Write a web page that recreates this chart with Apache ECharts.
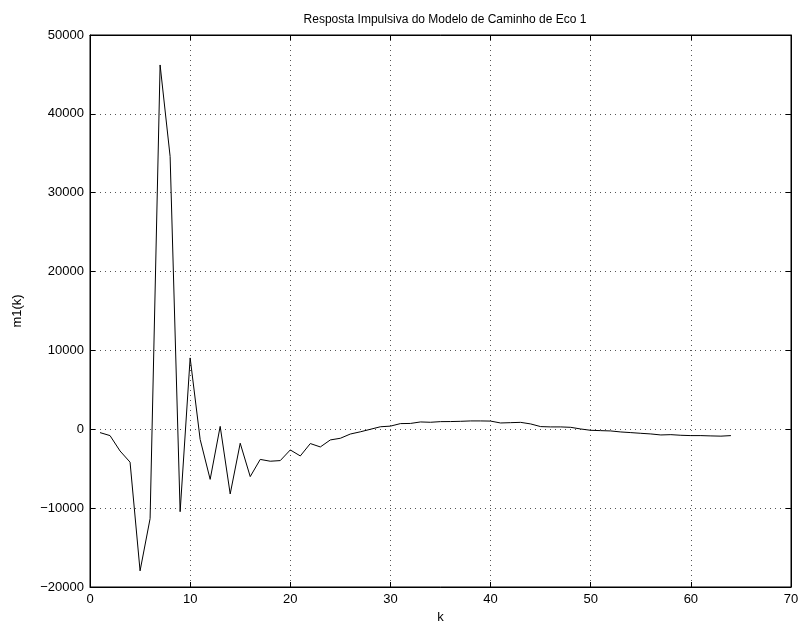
<!DOCTYPE html>
<html>
<head>
<meta charset="utf-8">
<script src="https://cdn.jsdelivr.net/npm/echarts@6/dist/echarts.min.js"></script>
<style>
  html, body { margin: 0; padding: 0; background: #fff; }
  #main { width: 802px; height: 631px; }
</style>
</head>
<body>
<div id="main"></div>
<script>
var myChart = echarts.init(document.getElementById('main'));

var k = [];
for (var i = 1; i <= 64; i++) k.push(i);
var m1 = [
    -420, -800, -2750, -4170, -17950, -11330, 46200, 34600, -10450, 9050,
    -1290, -6350, 370, -8200, -1770, -6000, -3820, -4050, -3970, -2620,
    -3380, -1810, -2240, -1350, -1140, -600, -320, 0, 320, 400,
    720, 740, 930, 890, 970, 980, 1010, 1060, 1060, 1040,
    800, 840, 880, 680, 340, 300, 300, 250, 40, -130,
    -170, -210, -340, -420, -510, -590, -720, -680, -760, -800,
    -800, -840, -870, -800
];

var fontFam = 'Liberation Sans, Arial, sans-serif';
var gridLine = { show: true, lineStyle: { color: '#555', type: [1, 4], width: 1 } };
var tick = { show: true, inside: true, length: 5, lineStyle: { color: '#000' } };

option = {
    backgroundColor: '#fff',
    animation: false,
    title: {
        text: 'Resposta Impulsiva do Modelo de Caminho de Eco 1',
        left: 440,
        textAlign: 'center',
        top: 9,
        textStyle: { fontSize: 12, fontWeight: 'normal', color: '#000', fontFamily: fontFam }
    },
    grid: {
        left: 90,
        right: 11,
        top: 35,
        bottom: 44,
        show: true,
        borderColor: '#000',
        borderWidth: 1
    },
    xAxis: [{
        type: 'value',
        min: 0,
        max: 70,
        interval: 10,
        name: 'k',
        nameLocation: 'middle',
        nameGap: 24,
        nameTextStyle: { fontSize: 13, color: '#000', fontFamily: fontFam },
        axisLine: { show: true, onZero: false, lineStyle: { color: '#000' } },
        axisTick: tick,
        axisLabel: { fontSize: 13, color: '#000', fontFamily: fontFam, margin: 6 },
        splitLine: gridLine
    }, {
        type: 'value',
        position: 'top',
        min: 0,
        max: 70,
        interval: 10,
        axisLine: { show: true, onZero: false, lineStyle: { color: '#000' } },
        axisTick: tick,
        axisLabel: { show: false },
        splitLine: { show: false }
    }],
    yAxis: [{
        type: 'value',
        min: -20000,
        max: 50000,
        interval: 10000,
        name: 'm1(k)',
        nameLocation: 'middle',
        nameGap: 66,
        nameTextStyle: { fontSize: 13, color: '#000', fontFamily: fontFam },
        axisLine: { show: true, onZero: false, lineStyle: { color: '#000' } },
        axisTick: tick,
        axisLabel: {
            fontSize: 13, color: '#000', fontFamily: fontFam, margin: 6,
            formatter: function (v) { return String(v).replace('-', '\u2212'); }
        },
        splitLine: gridLine
    }, {
        type: 'value',
        position: 'right',
        min: -20000,
        max: 50000,
        interval: 10000,
        axisLine: { show: true, onZero: false, lineStyle: { color: '#000' } },
        axisTick: tick,
        axisLabel: { show: false },
        splitLine: { show: false }
    }],
    series: [{
        type: 'line',
        data: k.map(function (x, i) { return [x, m1[i]]; }),
        showSymbol: false,
        lineStyle: { color: '#000', width: 1 },
        silent: true
    }]
};

myChart.setOption(option);
</script>
</body>
</html>
